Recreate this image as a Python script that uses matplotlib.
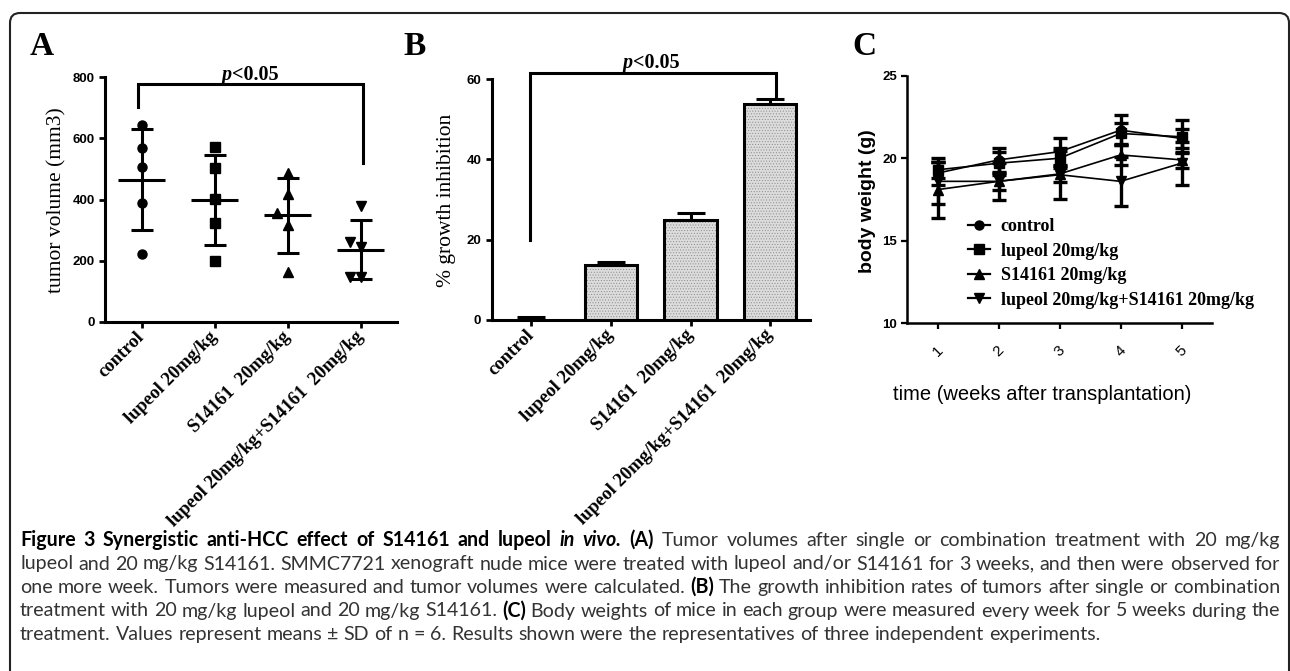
import numpy as np
import matplotlib
matplotlib.use("Agg")
import matplotlib.pyplot as plt
from matplotlib.patches import FancyBboxPatch
from matplotlib.lines import Line2D

# ---- data ----
groups = ["control", "lupeol 20mg/kg", "S14161  20mg/kg", "lupeol 20mg/kg+S14161  20mg/kg"]

# panel A: tumor volume (mm3), one value per mouse
vol_control = [643, 567, 505, 388, 222]
vol_lupeol = [570, 502, 401, 322, 200]
vol_s14161 = [488, 417, 317, 355, 164]
vol_combo = [379, 246, 262, 146, 146]
vol_ticks = [0, 200, 400, 600, 800]
bracket_a = [702, 777, 520]   # left foot, top, right foot

# panel B: % growth inhibition
inhib_mean = [0.1, 13.8, 24.9, 53.9]
inhib_err = [0.7, 0.7, 1.8, 1.2]
inhib_ticks = [0, 20, 40, 60]
bracket_b = [20, 61.4, 55.8]

# panel C: body weight (g)
weeks = [1, 2, 3, 4, 5]
bw_control = [19.1, 19.9, 20.4, 21.7, 21.2]
bw_control_sd = [0.7, 0.75, 0.8, 0.9, 0.6]
bw_lupeol = [19.3, 19.7, 20.0, 21.5, 21.3]
bw_lupeol_sd = [0.5, 0.7, 0.6, 0.65, 1.0]
bw_s14161 = [18.1, 18.6, 19.05, 20.2, 19.9]
bw_s14161_sd = [1.7, 0.5, 0.5, 0.6, 0.5]
bw_combo = [18.6, 18.6, 19.0, 18.6, 19.7]
bw_combo_sd = [1.4, 1.1, 1.45, 1.5, 1.3]
bw_ticks = [10, 15, 20, 25]
legend_labels = ["control", "lupeol 20mg/kg", "S14161 20mg/kg", "lupeol 20mg/kg+S14161 20mg/kg"]

caption = [
    [("Figure 3 Synergistic anti-HCC effect of S14161 and lupeol", "bold", "normal"),
     ("in vivo.", "bold", "italic"), ("(A)", "bold", "normal"),
     ("Tumor volumes after single or combination treatment with 20 mg/kg", "normal", "normal")],
    [("lupeol and 20 mg/kg S14161. SMMC7721 xenograft nude mice were treated with lupeol "
      "and/or S14161 for 3 weeks, and then were observed for", "normal", "normal")],
    [("one more week. Tumors were measured and tumor volumes were calculated.", "normal", "normal"),
     ("(B)", "bold", "normal"),
     ("The growth inhibition rates of tumors after single or combination", "normal", "normal")],
    [("treatment with 20 mg/kg lupeol and 20 mg/kg S14161.", "normal", "normal"),
     ("(C)", "bold", "normal"),
     ("Body weights of mice in each group were measured every week for 5 weeks during the",
      "normal", "normal")],
    [("treatment. Values represent means \u00b1 SD of n = 6. Results shown were the "
      "representatives of three independent experiments.", "normal", "normal")],
]

SERIF = "Liberation Serif"
SANS = "Liberation Sans"
W, H = 1290, 671

fig = plt.figure(figsize=(W / 100, H / 100), dpi=100)
bg = fig.add_axes([0, 0, 1, 1], zorder=-1)
bg.set_xlim(0, W)
bg.set_ylim(H, 0)
bg.axis("off")
renderer = fig.canvas.get_renderer()

bg.add_patch(FancyBboxPatch((10, 13), 1279, 700, boxstyle="round,pad=0,rounding_size=10",
                            fill=False, lw=1.5, ec="#222222"))


def px_axes(l, t, r, b):
    ax = fig.add_axes([l / W, 1 - b / H, (r - l) / W, (b - t) / H])
    ax.patch.set_alpha(0)
    return ax


def style_axes(ax, lw=2.2):
    for s in ["top", "right"]:
        ax.spines[s].set_visible(False)
    for s in ["left", "bottom"]:
        ax.spines[s].set_linewidth(lw)
    ax.tick_params(width=lw * 0.9, length=4, color="k")


def swarm(vals, thr=40, d=0.15):
    placed = []
    offs = []
    for v in vals:
        for c in (0, -d, d, -2 * d, 2 * d):
            if all(abs(v - pv) >= thr or pc != c for pv, pc in placed):
                break
        placed.append((v, c))
        offs.append(c)
    return np.array(offs)


def text_width(s, **kw):
    t = bg.text(0, 0, s, **kw)
    w = t.get_window_extent(renderer).width
    t.remove()
    return w


def draw_runs(x, y, runs, size, family, ha="left", va="baseline", color="k"):
    widths = [text_width(s, fontsize=size, family=family, fontweight=wt, fontstyle=st)
              for s, wt, st in runs]
    if ha == "center":
        x = x - sum(widths) / 2
    for (s, wt, st), w in zip(runs, widths):
        bg.text(x, y, s, fontsize=size, family=family, fontweight=wt, fontstyle=st,
                ha="left", va=va, color=color)
        x += w


def rot_xlabels(ax, labels):
    ax.set_xticklabels(labels, rotation=45, ha="right", va="center", rotation_mode="anchor",
                       family=SERIF, fontweight="bold", fontsize=13.5)
    ax.tick_params(axis="x", pad=5)


# ---------------- panel A ----------------
axA = px_axes(105, 77, 397, 322)
style_axes(axA)
vol_sets = [vol_control, vol_lupeol, vol_s14161, vol_combo]
mk_a = ["o", "s", "^", "v"]
for i, vals in enumerate(vol_sets):
    xc = i + 0.5
    axA.plot(xc + swarm(vals), vals, ls="none", marker=mk_a[i], ms=6.5, color="k", zorder=3)
    m, sd = np.mean(vals), np.std(vals, ddof=1)
    axA.hlines(m, xc - 0.32, xc + 0.32, color="k", lw=2.2)
    axA.errorbar(xc, m, yerr=sd, fmt="none", ecolor="k", elinewidth=2.2, capsize=8, capthick=2.2)
axA.set_xlim(0, 4)
axA.set_ylim(0, 800)
axA.set_yticks(vol_ticks)
axA.set_yticklabels([str(v) for v in vol_ticks], family=SANS, fontweight="bold", fontsize=9.5)
axA.set_xticks(np.arange(4) + 0.5)
rot_xlabels(axA, groups)
axA.plot([0.45, 0.45, 3.53, 3.53], [bracket_a[0], bracket_a[1], bracket_a[1], bracket_a[2]],
         color="k", lw=2.2, clip_on=False, solid_joinstyle="miter")

# ---------------- panel B ----------------
axB = px_axes(491.7, 79, 810, 320)
style_axes(axB)
xb = np.arange(4) + 0.5
plt.rcParams["hatch.linewidth"] = 0.4
axB.bar(xb[1:], inhib_mean[1:], width=0.66, color="#dcdcdc", edgecolor="#8a8a8a",
        hatch="......", lw=0, zorder=1)
axB.bar(xb[1:], inhib_mean[1:], width=0.66, fill=False, edgecolor="k", lw=2.2, zorder=2)
axB.errorbar(xb, inhib_mean, yerr=[np.zeros(4), inhib_err], fmt="none", ecolor="k",
             elinewidth=2.2, capsize=10, capthick=2.2, zorder=3)
axB.set_xlim(0, 4)
axB.set_ylim(0, 60)
axB.set_yticks(inhib_ticks)
axB.set_yticklabels([str(v) for v in inhib_ticks], family=SANS, fontweight="bold", fontsize=9.5)
axB.set_xticks(xb)
rot_xlabels(axB, groups)
axB.plot([0.48, 0.48, 3.57, 3.57], [bracket_b[0], bracket_b[1], bracket_b[1], bracket_b[2]],
         color="k", lw=2.2, clip_on=False, solid_joinstyle="miter")

# ---------------- panel C ----------------
axC = px_axes(907.3, 75.7, 1212, 323.3)
style_axes(axC, lw=1.8)
series = [(bw_control, bw_control_sd, "o"), (bw_lupeol, bw_lupeol_sd, "s"),
          (bw_s14161, bw_s14161_sd, "^"), (bw_combo, bw_combo_sd, "v")]
handles = []
for vals, sd, mk in series:
    axC.errorbar(weeks, vals, yerr=sd, color="k", lw=1.2, marker=mk, ms=6.5,
                 elinewidth=2.4, capsize=5, capthick=2.4)
    handles.append(Line2D([], [], color="k", lw=1.6, marker=mk, ms=6.5))
axC.set_xlim(0.5, 5.5)
axC.set_ylim(10, 25)
axC.set_yticks(bw_ticks)
axC.set_yticklabels([str(v) for v in bw_ticks], family=SANS, fontweight="bold", fontsize=9.5)
axC.set_xticks(weeks)
axC.set_xticklabels([str(w) for w in weeks], rotation=45, ha="center", va="center",
                    family=SANS, fontsize=11)
axC.tick_params(axis="x", pad=16)
axC.legend(handles, legend_labels, loc="upper left", bbox_to_anchor=(968 / W, 1 - 218 / H),
           bbox_transform=fig.transFigure, frameon=False, borderpad=0, borderaxespad=0,
           handlelength=1.2, handletextpad=0.6, labelspacing=0.42,
           prop={"family": SERIF, "weight": "bold", "size": 13})

# ---------------- labels on the page ----------------
bg.text(57, 200, "tumor volume (mm3)", rotation=90, ha="center", va="center",
        family=SERIF, fontsize=15.5)
bg.text(447, 200, "% growth inhibition", rotation=90, ha="center", va="center",
        family=SERIF, fontsize=15.5)
bg.text(867, 201, "body weight (g)", rotation=90, ha="center", va="center",
        family=SANS, fontweight="bold", fontsize=14)
bg.text(1042, 395, "time (weeks after transplantation)", ha="center", va="center",
        family=SANS, fontsize=14.5)

for lab, x in [("A", 30), ("B", 403), ("C", 852)]:
    bg.text(x, 55, lab, family=SERIF, fontweight="bold", fontsize=24, va="baseline")

p_runs = [("p", "bold", "italic"), ("<0.05", "bold", "normal")]
draw_runs(250, 80, p_runs, 14.5, SERIF, ha="center")
draw_runs(651, 68, p_runs, 14.5, SERIF, ha="center")

# ---------------- caption ----------------
CAP = "Lato"
cap_left, cap_right = 20, 1280
base_size = 12
lines_words = []
for line in caption:
    words = []
    for s, wt, st in line:
        for wd in s.split():
            words.append((wd, wt, st))
    lines_words.append(words)

space_w = text_width("a a", fontsize=base_size, family=CAP) - text_width("aa", fontsize=base_size, family=CAP)
nat = []
for words in lines_words:
    ws = [text_width(wd, fontsize=base_size, family=CAP, fontweight=wt, fontstyle=st) for wd, wt, st in words]
    nat.append(sum(ws) + space_w * (len(ws) - 1))
cap_size = base_size * (cap_right - cap_left) / np.mean(nat[:4]) * 0.985
cap_size = min(cap_size, base_size * (cap_right - cap_left) / max(nat[:4]))

for li, words in enumerate(lines_words):
    ws = [text_width(wd, fontsize=cap_size, family=CAP, fontweight=wt, fontstyle=st) for wd, wt, st in words]
    if li < 4:
        gap = (cap_right - cap_left - sum(ws)) / (len(ws) - 1)
    else:
        gap = space_w * cap_size / base_size
    x = cap_left
    y = 546 + li * 23.5
    for (wd, wt, st), w in zip(words, ws):
        col = "k" if wt == "bold" else "#333333"
        bg.text(x, y, wd, fontsize=cap_size, family=CAP, fontweight=wt, fontstyle=st,
                va="baseline", color=col)
        x += w + gap

fig.savefig("out.png", dpi=100)
